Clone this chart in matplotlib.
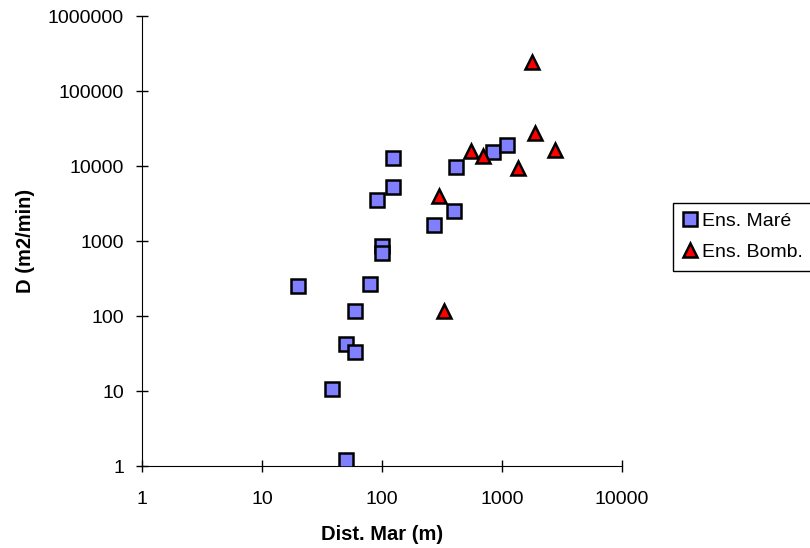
import matplotlib
matplotlib.use("Agg")
import matplotlib.pyplot as plt
from matplotlib.ticker import FixedLocator, FixedFormatter, NullLocator

plt.rcParams['font.family'] = ['Liberation Sans', 'DejaVu Sans']

# Ens. Maré (squares)
mare_x = [124, 124, 90, 100, 100, 20, 80, 60, 50, 60, 38, 50, 410, 836, 1094, 400, 273]
mare_y = [12700, 5300, 3550, 850, 690, 250, 267, 118, 42, 33, 10.5, 1.2, 9800, 15400, 19000, 2500, 1620]

# Ens. Bomb. (triangles)
bomb_x = [1767, 1884, 2765, 552, 699, 1367, 300, 327]
bomb_y = [246000, 27300, 16400, 16000, 13700, 9300, 4000, 118]

x_ticks = [1, 10, 100, 1000, 10000]
y_ticks = [1, 10, 100, 1000, 10000, 100000, 1000000]

fig = plt.figure(figsize=(8.1, 5.48), dpi=100)
ax = fig.add_axes([0.1753, 0.1496, 0.5926, 0.8212])

ax.plot(mare_x, mare_y, linestyle='none', marker='s', ms=9.5, mfc='#8080FF',
        mec='black', mew=1.8, label='Ens. Maré', zorder=3)
ax.plot(bomb_x, bomb_y, linestyle='none', marker='^', ms=10, mfc='#FF0000',
        mec='black', mew=1.8, label='Ens. Bomb.', zorder=4)

ax.set_xscale('log')
ax.set_yscale('log')
ax.set_xlim(1, 10000)
ax.set_ylim(1, 1000000)

ax.xaxis.set_major_locator(FixedLocator(x_ticks))
ax.xaxis.set_major_formatter(FixedFormatter([str(v) for v in x_ticks]))
ax.yaxis.set_major_locator(FixedLocator(y_ticks))
ax.yaxis.set_major_formatter(FixedFormatter([str(v) for v in y_ticks]))
ax.xaxis.set_minor_locator(NullLocator())
ax.yaxis.set_minor_locator(NullLocator())

ax.spines['top'].set_visible(False)
ax.spines['right'].set_visible(False)
ax.tick_params(direction='inout', length=8, width=1, labelsize=14)
ax.tick_params(axis='y', pad=9)
ax.tick_params(axis='x', pad=14)

ax.set_xlabel('Dist. Mar (m)', fontsize=14.5, fontweight='bold', labelpad=12)
ax.set_ylabel('D (m2/min)', fontsize=14.5, fontweight='bold', labelpad=9)

fig.legend(loc='lower left', bbox_to_anchor=(0.831, 0.5055), fancybox=False,
           edgecolor='black', framealpha=1, fontsize=14, handletextpad=0.3,
           borderaxespad=0, handlelength=0.7, borderpad=0.5, labelspacing=0.7)

fig.savefig('out.png', dpi=100)
